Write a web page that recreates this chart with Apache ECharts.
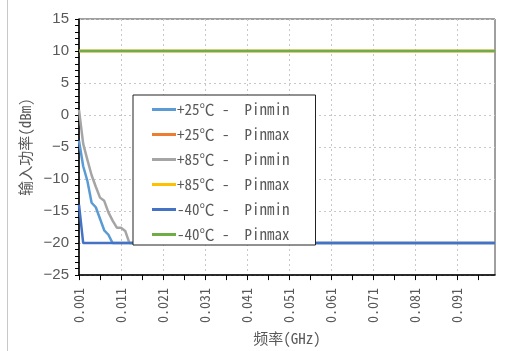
<!DOCTYPE html>
<html>
<head>
<meta charset="utf-8">
<script src="https://cdn.jsdelivr.net/npm/echarts@6/dist/echarts.min.js"></script>
<style>
  html, body { margin: 0; padding: 0; background: #fff; }
  #chart { width: 509px; height: 351px; }
</style>
</head>
<body>
<div id="chart"></div>
<script>
// 频率 (GHz)
const freqs = [0.001, 0.002, 0.003, 0.004, 0.005, 0.006, 0.007, 0.008, 0.009, 0.010, 0.011, 0.012, 0.013, 0.1];
// 输入功率 (dBm)
const pinmin25 = [-4, -8, -10.3, -13.7, -14.4, -16.2, -18, -18.7, -20, -20, -20, -20, -20, -20];
const pinmax25 = [10, 10, 10, 10, 10, 10, 10, 10, 10, 10, 10, 10, 10, 10];
const pinmin85 = [0.8, -4.5, -7, -9.4, -11.2, -12.9, -13.4, -15.2, -16.5, -17.6, -17.6, -18.1, -20, -20];
const pinmax85 = [10, 10, 10, 10, 10, 10, 10, 10, 10, 10, 10, 10, 10, 10];
const pinmin40 = [-14, -20, -20, -20, -20, -20, -20, -20, -20, -20, -20, -20, -20, -20];
const pinmax40 = [10, 10, 10, 10, 10, 10, 10, 10, 10, 10, 10, 10, 10, 10];

const seriesNames = ['+25℃ -  Pinmin', '+25℃ -  Pinmax', '+85℃ -  Pinmin', '+85℃ -  Pinmax', '-40℃ -  Pinmin', '-40℃ -  Pinmax'];
const seriesValues = [pinmin25, pinmax25, pinmin85, pinmax85, pinmin40, pinmax40];
const colors = ['#5B9BD5', '#ED7D31', '#A5A5A5', '#FFC000', '#4472C4', '#70AD47'];

const xTicks = [0.001, 0.011, 0.021, 0.031, 0.041, 0.051, 0.061, 0.071, 0.081, 0.091];
const xMinorTicks = [0.006, 0.016, 0.026, 0.036, 0.046, 0.056, 0.066, 0.076, 0.086, 0.096];

const monoFont = "'Noto Sans Mono CJK SC', 'Liberation Mono', monospace";
const cjkFont = "'Noto Sans Mono CJK SC', 'Noto Sans CJK SC', sans-serif";

const chart = echarts.init(document.getElementById('chart'));

const option = {
    animation: false,
    color: colors,
    grid: {
        left: 79,
        right: 14,
        top: 19,
        bottom: 73,
        show: true,
        borderColor: '#404040',
        borderWidth: 1
    },
    legend: {
        orient: 'vertical',
        left: 133,
        top: 95,
        padding: [7, 26, 3, 19],
        itemGap: 10,
        itemWidth: 24,
        itemHeight: 3,
        icon: 'rect',
        backgroundColor: '#fff',
        borderColor: '#222',
        borderWidth: 1,
        borderRadius: 0,
        data: seriesNames,
        textStyle: {
            fontFamily: monoFont,
            fontSize: 15,
            lineHeight: 14,
            color: '#595959',
            padding: [0, 0, 0, -4]
        }
    },
    xAxis: [
        {
            type: 'value',
            min: 0.001,
            max: 0.1,
            name: '频率(GHz)',
            nameLocation: 'middle',
            nameGap: 55,
            nameTextStyle: {fontFamily: cjkFont, fontSize: 15, color: '#595959'},
            axisLine: {show: true, onZero: false, lineStyle: {color: '#000', width: 1.5}},
            axisTick: {show: true, length: 5, customValues: xTicks, lineStyle: {color: '#000'}},
            axisLabel: {
                customValues: xTicks,
                rotate: 90,
                margin: 13,
                fontFamily: monoFont,
                fontSize: 14,
                color: '#595959',
                formatter: (v) => v.toFixed(3)
            },
            splitLine: {show: true, lineStyle: {color: '#c8c8c8', type: [2, 3]}}
        },
        {
            type: 'value',
            min: 0.001,
            max: 0.1,
            position: 'bottom',
            axisLine: {show: false, onZero: false},
            axisTick: {show: true, length: 5, customValues: xMinorTicks, lineStyle: {color: '#000'}},
            axisLabel: {show: false},
            splitLine: {show: false}
        }
    ],
    yAxis: {
        type: 'value',
        min: -25,
        max: 15,
        interval: 5,
        name: '输入功率(dBm)',
        nameLocation: 'middle',
        nameGap: 40,
        nameTextStyle: {fontFamily: cjkFont, fontSize: 15, color: '#595959'},
        axisLine: {show: true, lineStyle: {color: '#000', width: 1.5}},
        axisTick: {show: true, length: 4, lineStyle: {color: '#000'}},
        minorTick: {show: true, splitNumber: 5, length: 4, lineStyle: {color: '#000'}},
        axisLabel: {
            margin: 10,
            fontFamily: 'Liberation Sans',
            fontSize: 15,
            color: '#595959',
            formatter: (v) => String(v).replace('-', '−')
        },
        splitLine: {show: true, lineStyle: {color: '#c8c8c8', type: [2, 3]}}
    },
    graphic: [
        {
            type: 'line',
            shape: {x1: 7.5, y1: 0, x2: 7.5, y2: 351},
            style: {stroke: '#c8c8c8', lineWidth: 1}
        }
    ],
    series: seriesNames.map((name, i) => ({
        name: name,
        type: 'line',
        symbol: 'none',
        lineStyle: {width: 2.5, color: colors[i]},
        itemStyle: {color: colors[i]},
        data: freqs.map((f, j) => [f, seriesValues[i][j]])
    }))
};

chart.setOption(option);
</script>
</body>
</html>
